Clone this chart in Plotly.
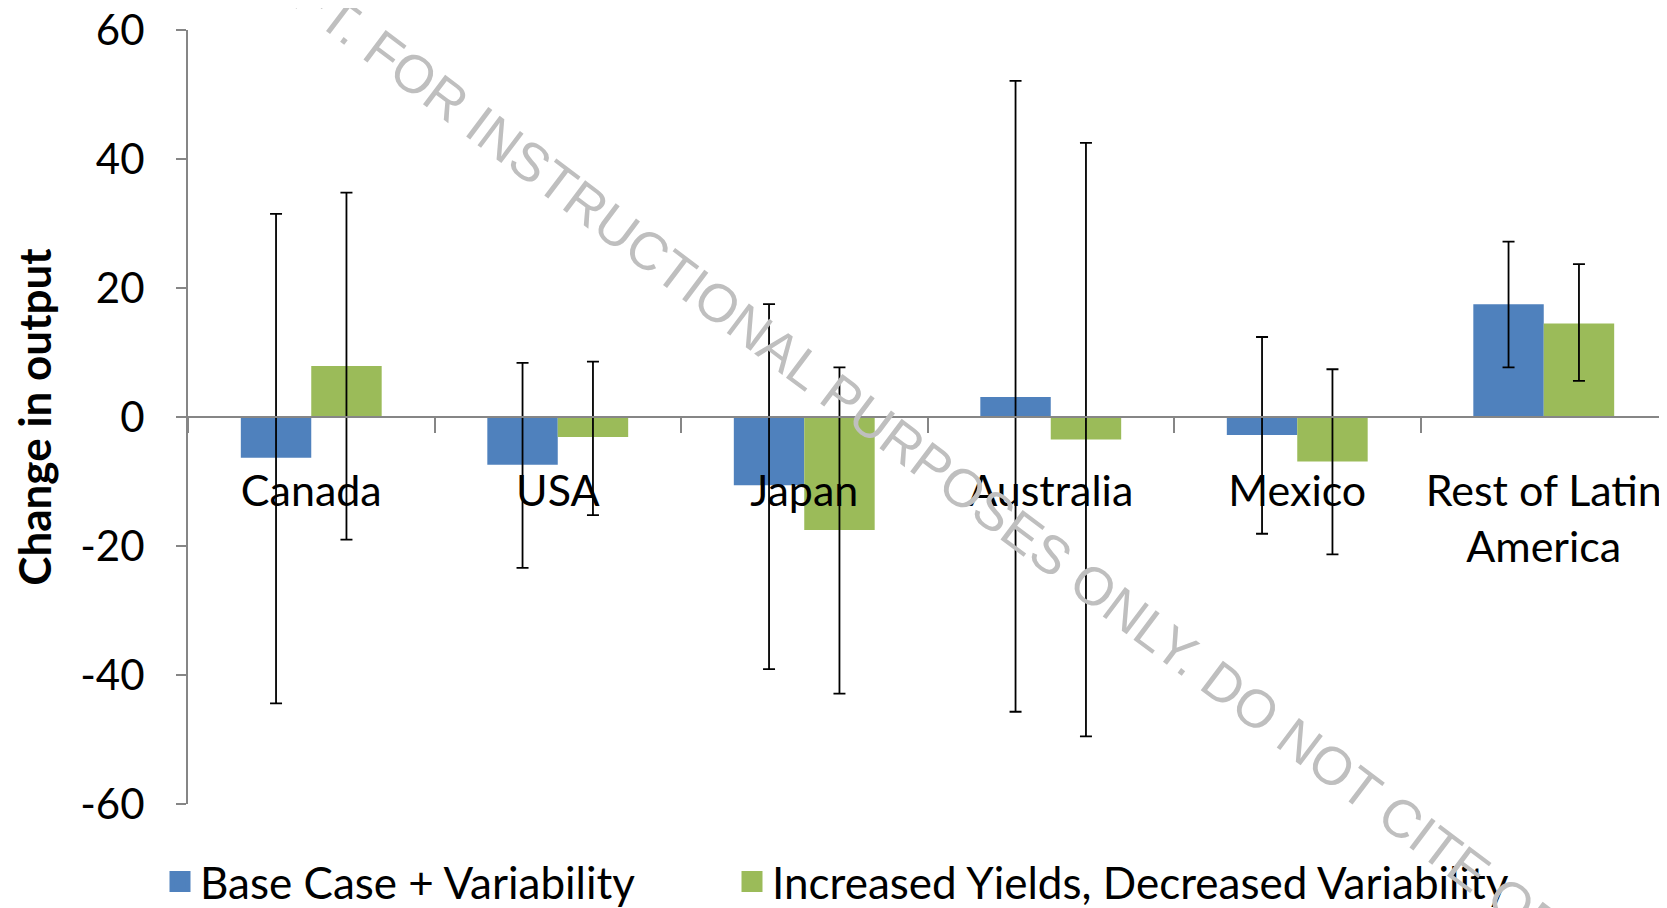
import plotly.graph_objects as go

categories = ["Canada", "USA", "Japan", "Australia", "Mexico", "Rest of Latin<br>America"]
series_names = ["Base Case + Variability", "Increased Yields, Decreased Variability"]
series_colors = ["#4F81BD", "#9BBB59"]

base_values = [-6.3, -7.4, -10.6, 3.1, -2.8, 17.5]
base_upper = [31.5, 8.4, 17.5, 52.1, 12.4, 27.2]
base_lower = [-44.4, -23.4, -39.1, -45.7, -18.1, 7.7]

incr_values = [7.9, -3.1, -17.5, -3.5, -6.9, 14.5]
incr_upper = [34.8, 8.6, 7.7, 42.5, 7.4, 23.7]
incr_lower = [-19.0, -15.2, -42.9, -49.5, -21.3, 5.6]

y_ticks = [-60, -40, -20, 0, 20, 40, 60]
y_tick_text = ["-60", "-40", "-20", "0", "20", "40", "60"]
watermark = "DRAFT. FOR INSTRUCTIONAL PURPOSES ONLY. DO NOT CITE OR QUOTE."

FONT = "Lato"
GRAY = "#868686"

# page body has an 8px margin: figure is sized/offset so the plot sits where the reference has it
W, H = 1659, 900
ML, MT = 180, 22
PW = W - ML
PH = 774
MB = H - MT - PH


def err(vals, up, lo):
    return dict(type="data", symmetric=False,
                array=[u - v for u, v in zip(up, vals)],
                arrayminus=[v - l for v, l in zip(vals, lo)],
                color="black", thickness=1.8, width=6)


def px_x(abs_x):
    return (abs_x - 188) / PW


def px_y(abs_y):
    return (804 - abs_y) / PH


fig = go.Figure()
fig.add_trace(go.Bar(x=categories, y=base_values, name=series_names[0], showlegend=False,
                     marker=dict(color=series_colors[0], line=dict(width=0)),
                     error_y=err(base_values, base_upper, base_lower)))
fig.add_trace(go.Bar(x=categories, y=incr_values, name=series_names[1], showlegend=False,
                     marker=dict(color=series_colors[1], line=dict(width=0)),
                     error_y=err(incr_values, incr_upper, incr_lower)))
# legend swatches
for i, (nm, col) in enumerate(zip(series_names, series_colors)):
    fig.add_trace(go.Scatter(x=[None], y=[None], mode="markers", name=nm,
                             legend="legend" if i == 0 else "legend2",
                             marker=dict(symbol="square", size=16, color=col,
                                         line=dict(color=col, width=5))))

leg_common = dict(orientation="h", xanchor="left", y=px_y(882), yanchor="middle",
                  font=dict(family=FONT, size=44), itemclick=False,
                  bgcolor="rgba(0,0,0,0)")

fig.update_layout(
    width=W, height=H,
    margin=dict(l=ML, r=0, t=MT, b=MB, autoexpand=False),
    paper_bgcolor="white", plot_bgcolor="white",
    barmode="group", bargap=0.4286, bargroupgap=0,
    font=dict(family=FONT, size=42, color="black"),
    showlegend=True,
    legend=dict(x=px_x(160), **leg_common),
    legend2=dict(x=px_x(732), **leg_common),
    xaxis=dict(type="category", range=[-0.5, 5.5], anchor="free", position=0.5,
               showline=True, linecolor=GRAY, linewidth=2,
               ticks="outside", tickson="boundaries", ticklen=15, tickcolor=GRAY, tickwidth=2,
               ticklabelstandoff=36, showgrid=False, zeroline=False,
               tickfont=dict(family=FONT, size=43)),
    yaxis=dict(range=[-60, 60], tickvals=y_ticks, ticktext=y_tick_text,
               showline=True, linecolor=GRAY, linewidth=2,
               ticks="outside", ticklen=10, tickcolor=GRAY, tickwidth=2,
               ticklabelstandoff=23, ticklabeloverflow="allow",
               showgrid=False, zeroline=False,
               tickfont=dict(family=FONT, size=42),
               title=dict(text="<b>Change in output</b>", standoff=26,
                          font=dict(family=FONT, size=44))),
    annotations=[dict(text=watermark, xref="paper", yref="paper",
                      x=px_x(972), y=px_y(494),
                      xanchor="center", yanchor="middle", textangle=37, showarrow=False,
                      font=dict(family="Liberation Sans", size=53.5, color="#BFBFBF"))],
)

fig.write_html("out.html")
